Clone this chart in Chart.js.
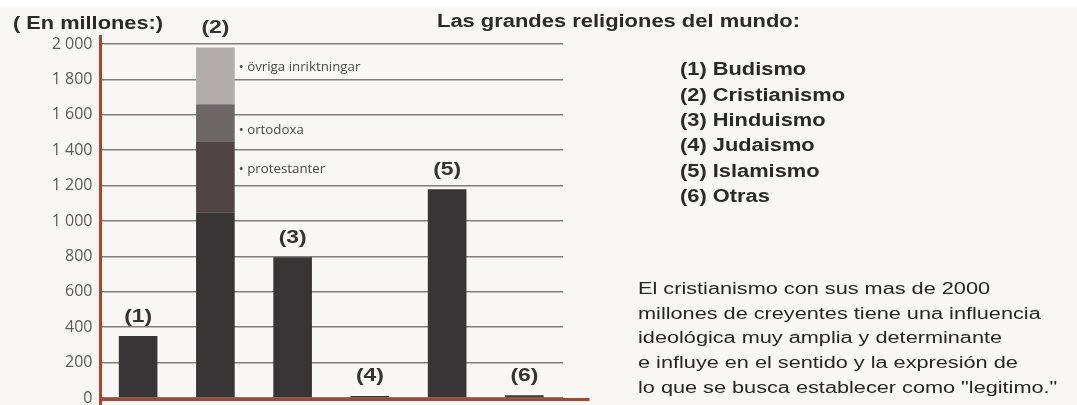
<!DOCTYPE html>
<html>
<head>
<meta charset="utf-8">
<script src="https://cdn.jsdelivr.net/npm/chart.js@4.4.1/dist/chart.umd.min.js"></script>
<style>
html,body{margin:0;padding:0;}
body{width:1077px;height:405px;background:#f8f7f5;position:relative;overflow:hidden;font-family:"Liberation Sans",Arial,sans-serif;color:#2a2a2a;}
#topstrip{position:absolute;left:0;top:0;width:1077px;height:7px;background:#ffffff;}
#wrap{position:absolute;left:0;top:0;width:1077px;height:430px;}
#c{display:block;}
.t{position:absolute;white-space:nowrap;transform-origin:0 0;}
.b{font-weight:bold;font-size:18px;line-height:20px;}
#legend{position:absolute;left:680px;top:57.2px;font-weight:bold;font-size:18px;line-height:25.35px;transform-origin:0 0;white-space:nowrap;}
#legend span,#para span{display:inline-block;}
#para{position:absolute;left:638px;top:277.1px;font-size:16px;line-height:24.65px;transform-origin:0 0;white-space:nowrap;color:#262626;}
</style>
</head>
<body>
<div id="topstrip"></div>
<div id="wrap"><canvas id="c" width="1077" height="430"></canvas></div>
<div class="t b" id="t1" style="left:13px;top:13px;">( En millones:)</div>
<div class="t b" id="t2" style="left:437px;top:10.5px;">Las grandes religiones del mundo:</div>
<div id="legend"></div>
<div id="para"></div>
<script>
// ---- data ----
const categories = ["(1)", "(2)", "(3)", "(4)", "(5)", "(6)"];
const religionNames = ["Budismo", "Cristianismo", "Hinduismo", "Judaismo", "Islamismo", "Otras"];
const mainValues = [350, 1050, 795, 12, 1180, 15];
const protestantValues = [0, 400, 0, 0, 0, 0];
const orthodoxValues = [0, 210, 0, 0, 0, 0];
const otherBranchValues = [0, 320, 0, 0, 0, 0];
const segmentLabels = ["protestanter", "ortodoxa", "övriga inriktningar"];
const yTickValues = [0, 200, 400, 600, 800, 1000, 1200, 1400, 1600, 1800, 2000];
const paragraphLines = [
  "El cristianismo con sus mas de 2000",
  "millones de creyentes tiene una influencia",
  "ideológica muy amplia y determinante",
  "e influye en el sentido y la expresión de",
  "lo que se busca establecer como \"legitimo.\""
];

// ---- HTML text ----
const legendEl = document.getElementById('legend');
religionNames.forEach((n, i) => {
  const s = document.createElement('span');
  s.textContent = categories[i] + ' ' + n;
  legendEl.appendChild(s);
  legendEl.appendChild(document.createElement('br'));
});
const paraEl = document.getElementById('para');
paragraphLines.forEach(l => {
  const s = document.createElement('span');
  s.textContent = l;
  paraEl.appendChild(s);
  paraEl.appendChild(document.createElement('br'));
});
function fitTo(el, measureEl, target) {
  const w = measureEl.getBoundingClientRect().width;
  el.style.transform = 'scaleX(' + (target / w) + ')';
}
fitTo(document.getElementById('t1'), document.getElementById('t1'), 150);
fitTo(document.getElementById('t2'), document.getElementById('t2'), 363);
fitTo(legendEl, legendEl.children[2], 165);
fitTo(paraEl, paraEl.children[0], 352);

// ---- chart ----
const RED = '#ab4530';
const segOffsets = [28, 26, 20];
const decorPlugin = {
  id: 'decor',
  afterDatasetsDraw(chart) {
    const ctx = chart.ctx;
    const xs = chart.scales.x, ys = chart.scales.y;
    const ca = chart.chartArea;
    // bar labels
    ctx.save();
    ctx.fillStyle = '#333333';
    ctx.font = 'bold 18px "Liberation Sans", Arial, sans-serif';
    ctx.textAlign = 'center';
    ctx.textBaseline = 'alphabetic';
    const lblScale = 28 / ctx.measureText(categories[0]).width;
    categories.forEach((c, i) => {
      const total = mainValues[i] + protestantValues[i] + orthodoxValues[i] + otherBranchValues[i];
      const x = xs.getPixelForValue(i);
      const y = ys.getPixelForValue(total) - 19 + 4.6;
      ctx.save();
      ctx.translate(x, y);
      ctx.scale(lblScale, 1);
      ctx.fillText(c, 0, 0);
      ctx.restore();
    });
    ctx.restore();
    // segment annotations for (2)
    const meta = chart.getDatasetMeta(0);
    const bar = meta.data[1];
    const bx = bar.x + bar.width / 2 + 4;
    const segs = [protestantValues, orthodoxValues, otherBranchValues];
    ctx.save();
    ctx.font = '13.3px "Open Sans", sans-serif';
    ctx.fillStyle = '#4a4a4a';
    ctx.textBaseline = 'middle';
    ctx.textAlign = 'left';
    let cum = mainValues[1];
    segs.forEach((arr, k) => {
      cum += arr[1];
      const y = ys.getPixelForValue(cum) + segOffsets[k];
      ctx.fillText('\u2022 ' + segmentLabels[k], bx, y);
    });
    ctx.restore();
    // axes
    ctx.save();
    ctx.fillStyle = RED;
    const y0 = ys.getPixelForValue(0);
    ctx.fillRect(ca.left - 0.5, ca.top - 9, 3, 405 - (ca.top - 9));
    ctx.fillRect(ca.left - 0.5, y0, ca.right + 27 - ca.left, 3);
    ctx.restore();
  }
};

new Chart(document.getElementById('c'), {
  type: 'bar',
  data: {
    labels: categories,
    datasets: [
      { label: 'principal', data: mainValues, backgroundColor: '#393435' },
      { label: segmentLabels[0], data: protestantValues, backgroundColor: '#4f4546' },
      { label: segmentLabels[1], data: orthodoxValues, backgroundColor: '#6d6667' },
      { label: segmentLabels[2], data: otherBranchValues, backgroundColor: '#b2acaa' }
    ]
  },
  options: {
    responsive: false,
    animation: false,
    events: [],
    layout: { padding: { left: 0, right: 514, top: 44, bottom: 32 } },
    datasets: { bar: { barPercentage: 0.5, categoryPercentage: 1.0, borderWidth: 0 } },
    plugins: { legend: { display: false }, tooltip: { enabled: false } },
    scales: {
      x: { stacked: true, display: false },
      y: {
        stacked: true,
        min: 0, max: 2000,
        afterFit(scale) { scale.width = 99.5; },
        afterBuildTicks(scale) { scale.ticks = yTickValues.map(v => ({ value: v })); },
        border: { display: false },
        grid: { color: '#857d79', lineWidth: 1.5, drawTicks: false },
        ticks: {
          padding: 7,
          color: '#5a5a5a',
          font: { family: '"Open Sans", sans-serif', size: 16 },
          callback(v) {
            return v >= 1000 ? Math.floor(v / 1000) + ' ' + String(v % 1000).padStart(3, '0') : String(v);
          }
        }
      }
    }
  },
  plugins: [decorPlugin]
});
</script>
</body>
</html>
